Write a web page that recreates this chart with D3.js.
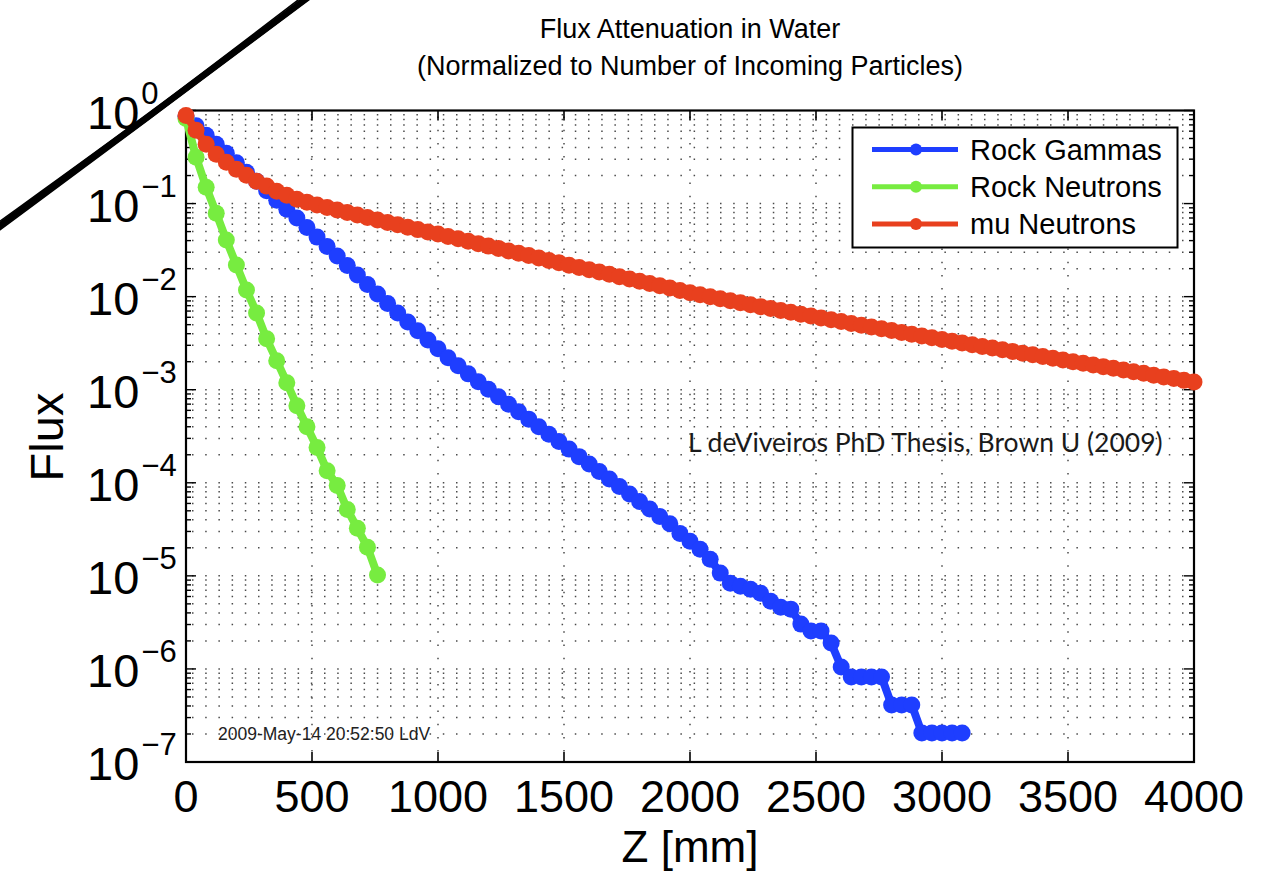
<!DOCTYPE html>
<html>
<head>
<meta charset="utf-8">
<script src="https://cdn.jsdelivr.net/npm/d3@7"></script>
<style>
  body { margin: 0; background: #fff; }
  svg { display: block; font-family: "Liberation Sans", Arial, Helvetica, sans-serif; }
</style>
</head>
<body>
<svg id="chart" width="1281" height="873"></svg>
<script>
// samples every 40 mm, starting at z = 0
const STEP = 40;

const rockGammas = [
  0.865, 0.684, 0.541, 0.433, 0.347, 0.274, 0.217, 0.174, 0.1376, 0.1087,
  0.0871, 0.0698, 0.0552, 0.0436, 0.0345, 0.0273, 0.0216, 0.0171, 0.01352, 0.01069,
  0.00845, 0.00669, 0.00535, 0.00429, 0.00343, 0.00275, 0.00220, 0.00181, 0.00148, 0.00122,
  0.00101, 8.41e-4, 6.99e-4, 5.81e-4, 4.83e-4, 4.01e-4, 3.33e-4, 2.77e-4, 2.30e-4, 1.91e-4,
  1.59e-4, 1.32e-4, 1.10e-4, 9.12e-5, 7.59e-5, 6.31e-5, 5.24e-5, 4.35e-5, 3.62e-5, 2.86e-5,
  2.35e-5, 1.93e-5, 1.51e-5, 1.07e-5, 8.34e-6, 7.74e-6, 7.19e-6, 6.52e-6, 5.35e-6, 4.61e-6,
  4.39e-6, 3.03e-6, 2.55e-6, 2.55e-6, 1.90e-6, 1.05e-6, 8.2e-7, 8.2e-7, 8.2e-7, 8.2e-7,
  4.1e-7, 4.1e-7, 4.1e-7, 2.05e-7, 2.05e-7, 2.05e-7, 2.05e-7, 2.05e-7
];

const rockNeutrons = [
  0.82, 0.314, 0.150, 0.0789, 0.0405, 0.0219, 0.0118, 0.00668, 0.00352, 0.00205,
  0.00119, 6.74e-4, 4.01e-4, 2.39e-4, 1.35e-4, 9.35e-5, 5.17e-5, 3.24e-5, 2.03e-5, 1.02e-5
];

const muNeutrons = [
  0.886, 0.612, 0.433, 0.338, 0.278, 0.234, 0.201, 0.174, 0.154, 0.136,
  0.123, 0.111, 0.1035, 0.0968, 0.0908, 0.0853, 0.0803, 0.0755, 0.0710, 0.0667,
  0.0627, 0.0591, 0.0557, 0.0525, 0.0496, 0.0470, 0.0443, 0.0418, 0.0394, 0.0371,
  0.0349, 0.0330, 0.0310, 0.0292, 0.0276, 0.0260, 0.0245, 0.0231, 0.0218, 0.0206,
  0.0195, 0.0184, 0.0174, 0.0164, 0.0155, 0.01466, 0.01385, 0.0131, 0.01236, 0.01164,
  0.0110, 0.01045, 0.00995, 0.00947, 0.00901, 0.00859, 0.00819, 0.00781, 0.00745, 0.00711,
  0.00679, 0.00648, 0.00618, 0.00590, 0.00564, 0.00540, 0.00516, 0.00493, 0.00472, 0.00452,
  0.00432, 0.00413, 0.00395, 0.00378, 0.00362, 0.00346, 0.00332, 0.00318, 0.00305, 0.00292,
  0.00280, 0.00269, 0.00258, 0.00247, 0.00237, 0.00227, 0.00218, 0.00209, 0.00200, 0.00192,
  0.00184, 0.00177, 0.00170, 0.00163, 0.00156, 0.00150, 0.00143, 0.00137, 0.00132, 0.00126,
  0.00121
];

const seriesNames = ['Rock Gammas', 'Rock Neutrons', 'mu Neutrons'];
const seriesColors = ['#1e3eff', '#77ec40', '#e8401e'];
const xTicks = [0, 500, 1000, 1500, 2000, 2500, 3000, 3500, 4000];
const yExponents = [0, -1, -2, -3, -4, -5, -6, -7];

const titleLines = ['Flux Attenuation in Water', '(Normalized to Number of Incoming Particles)'];
const xLabel = 'Z [mm]';
const yLabel = 'Flux';
const stamp = '2009-May-14 20:52:50 LdV';
const credit = 'L deViveiros PhD Thesis, Brown U (2009)';

const svg = d3.select('#chart');

const x = d3.scaleLinear().domain([0, 4000]).range([186, 1194]);
const y = d3.scaleLog().domain([1e-7, 1]).range([762, 110.5]);

const toPoints = vals => vals.map((v, i) => ({ z: i * STEP, v: v }));
const series = [rockGammas, rockNeutrons, muNeutrons].map(toPoints);

// dotted grid
const minorVals = [];
d3.range(-7, 0).forEach(e => {
  d3.range(1, 10).forEach(m => minorVals.push(m * Math.pow(10, e)));
});

const grid = svg.append('g')
  .attr('stroke', '#4a4a4a')
  .attr('stroke-width', 1.5)
  .attr('stroke-dasharray', '1.5 11.7');

grid.selectAll('line.h')
  .data(minorVals.filter(v => v > 1e-7))
  .enter().append('line')
  .attr('class', 'h')
  .attr('x1', x(0) + 6).attr('x2', x(4000))
  .attr('y1', d => y(d)).attr('y2', d => y(d));

grid.selectAll('line.v')
  .data(xTicks.slice(1, -1))
  .enter().append('line')
  .attr('class', 'v')
  .attr('x1', d => x(d)).attr('x2', d => x(d))
  .attr('y1', y(1) + 6).attr('y2', y(1e-7));

// axes box + ticks
const axes = svg.append('g').attr('stroke', '#000');
axes.append('rect')
  .attr('x', x(0)).attr('y', y(1))
  .attr('width', x(4000) - x(0)).attr('height', y(1e-7) - y(1))
  .attr('fill', 'none').attr('stroke-width', 2.2);

xTicks.forEach(t => {
  axes.append('line').attr('x1', x(t)).attr('x2', x(t))
    .attr('y1', y(1e-7)).attr('y2', y(1e-7) - 10).attr('stroke-width', 1.6);
  axes.append('line').attr('x1', x(t)).attr('x2', x(t))
    .attr('y1', y(1)).attr('y2', y(1) + 10).attr('stroke-width', 1.6);
});

minorVals.concat([1]).forEach(v => {
  const major = Math.abs(Math.log10(v) - Math.round(Math.log10(v))) < 1e-9;
  const len = major ? 10 : 5;
  axes.append('line').attr('x1', x(0)).attr('x2', x(0) + len)
    .attr('y1', y(v)).attr('y2', y(v)).attr('stroke-width', 1.4);
  axes.append('line').attr('x1', x(4000)).attr('x2', x(4000) - len)
    .attr('y1', y(v)).attr('y2', y(v)).attr('stroke-width', 1.4);
});

// tick labels
svg.append('g').selectAll('text')
  .data(xTicks)
  .enter().append('text')
  .attr('x', d => x(d))
  .attr('y', 812)
  .attr('text-anchor', 'middle')
  .attr('font-size', 45)
  .text(d => d);

const yl = svg.append('g').selectAll('text')
  .data(yExponents)
  .enter().append('text')
  .attr('x', 87)
  .attr('y', d => y(Math.pow(10, d)) + 18)
  .attr('font-size', 47);
yl.append('tspan').text('10');
yl.append('tspan')
  .attr('dy', -25)
  .attr('dx', 2)
  .attr('font-size', 31)
  .text(d => d === 0 ? '0' : '\u2212' + Math.abs(d));

// axis titles
svg.append('text')
  .attr('x', 690).attr('y', 862)
  .attr('text-anchor', 'middle')
  .attr('font-size', 44)
  .text(xLabel);

svg.append('text')
  .attr('transform', 'translate(63,437) rotate(-90)')
  .attr('text-anchor', 'middle')
  .attr('font-size', 47)
  .text(yLabel);

svg.append('g').selectAll('text')
  .data(titleLines)
  .enter().append('text')
  .attr('x', 690)
  .attr('y', (d, i) => 38 + i * 37)
  .attr('text-anchor', 'middle')
  .attr('font-size', 27)
  .text(d => d);

// stamp + credit
svg.append('text')
  .attr('x', 218).attr('y', 740)
  .attr('font-size', 17.5)
  .attr('fill', '#222')
  .text(stamp);

svg.append('text')
  .attr('x', 688).attr('y', 452)
  .attr('font-family', 'Lato, "Open Sans", sans-serif')
  .attr('font-size', 26.5)
  .attr('fill', '#1a1a1a')
  .text(credit);

// series
const line = d3.line().x(d => x(d.z)).y(d => y(d.v));

const sg = svg.selectAll('g.series')
  .data(series)
  .enter().append('g')
  .attr('class', 'series');

sg.append('path')
  .attr('d', d => line(d))
  .attr('fill', 'none')
  .attr('stroke', (d, i) => seriesColors[i])
  .attr('stroke-width', 8)
  .attr('stroke-linejoin', 'round');

sg.each(function (d, i) {
  d3.select(this).selectAll('circle')
    .data(d)
    .enter().append('circle')
    .attr('cx', p => x(p.z))
    .attr('cy', p => y(p.v))
    .attr('r', 8.5)
    .attr('fill', seriesColors[i]);
});

// legend
const lg = svg.append('g');
lg.append('rect')
  .attr('x', 852.5).attr('y', 127.5)
  .attr('width', 325).attr('height', 120)
  .attr('fill', '#fff').attr('stroke', '#000').attr('stroke-width', 2);

const rows = lg.selectAll('g.row')
  .data(seriesNames)
  .enter().append('g')
  .attr('class', 'row')
  .attr('transform', (d, i) => `translate(0, ${149.5 + i * 37.3})`);

rows.append('line')
  .attr('x1', 872).attr('x2', 958)
  .attr('stroke', (d, i) => seriesColors[i])
  .attr('stroke-width', 5);
rows.append('circle')
  .attr('cx', 916).attr('r', 6)
  .attr('fill', (d, i) => seriesColors[i]);
rows.append('text')
  .attr('x', 970).attr('y', 10)
  .attr('font-size', 29)
  .text(d => d);

// rough pen stroke across the top-left corner
const scribble = [
  [[-4, 228], [150, 116], [308, -3]],
  [[-4, 224], [152, 112], [306, -6]],
  [[-3, 232], [148, 120], [310, -1]],
  [[0, 226], [151, 114], [304, -2]],
  [[-2, 230], [149, 118], [309, -4]]
];
const curve = d3.line().curve(d3.curveBasis);
svg.append('g').selectAll('path')
  .data(scribble)
  .enter().append('path')
  .attr('d', d => curve(d))
  .attr('fill', 'none')
  .attr('stroke', '#000')
  .attr('stroke-width', (d, i) => i === 0 ? 6 : 1.6);
</script>
</body>
</html>
